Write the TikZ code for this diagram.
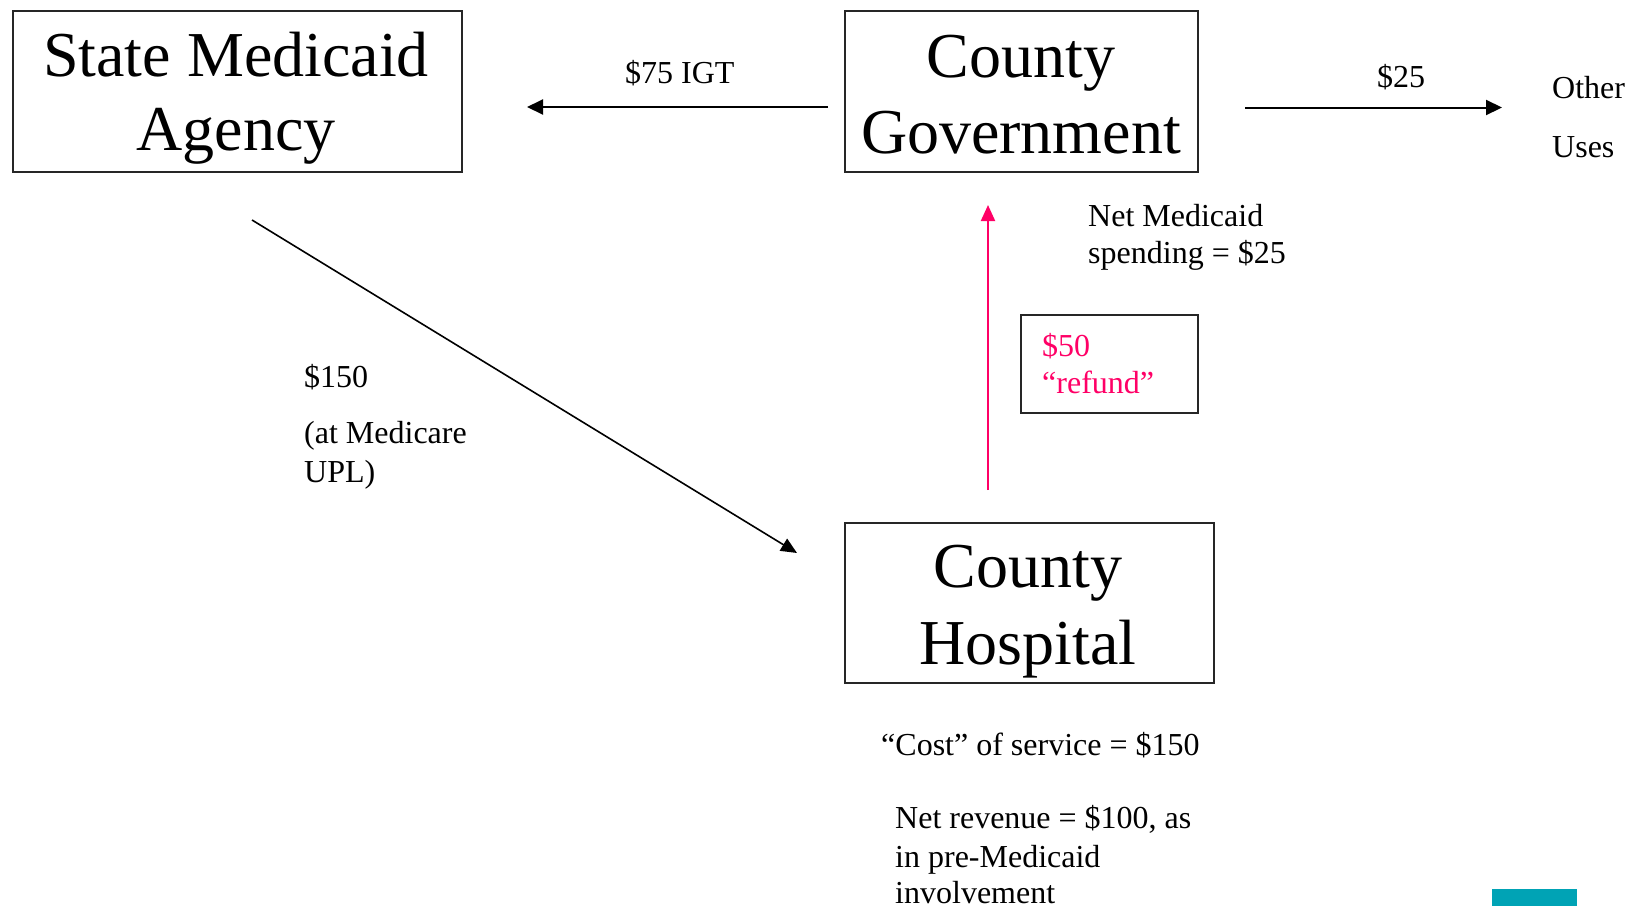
\documentclass[tikz,border=0pt]{standalone}
\usepackage{fontspec}
\setmainfont{Liberation Serif}
\usetikzlibrary{arrows.meta,calc}
\definecolor{hotpink}{RGB}{255,0,102}
\definecolor{tealbar}{RGB}{0,163,181}
\tikzset{
  box/.style={draw=black!85, line width=2pt, inner sep=0pt, anchor=north west},
  bigtxt/.style={inner sep=0pt, anchor=base, font=\fontsize{64}{76}\selectfont},
  smalltxt/.style={inner sep=0pt, anchor=base west, font=\fontsize{32}{39}\selectfont},
  arr/.style={line width=2pt, -{Triangle[length=16pt,width=15pt]}},
  pinkarr/.style={line width=2pt, hotpink, -{Triangle[length=16pt,width=14pt]}},
}
\begin{document}
\begin{tikzpicture}[x=1pt,y=-1pt]
\useasboundingbox (0,0) rectangle (1640,906);
% boxes
\node[box, minimum width=449pt, minimum height=161pt] (sma) at (12,10) {};
\node[box, minimum width=353pt, minimum height=161pt] (gov) at (844,10) {};
\node[box, minimum width=369pt, minimum height=160pt] (hosp) at (844,522) {};
\node[box, minimum width=177pt, minimum height=98pt] (refund) at (1020,314) {};
% box texts
\node[bigtxt] (smaA) at (236,76) {State Medicaid};
\node[bigtxt] (smaB) at (236,150) {Agency};
\node[bigtxt] (govA) at (1021,77) {County};
\node[bigtxt] (govB) at (1021,153) {Government};
\node[bigtxt] (hospA) at (1028,587) {County};
\node[bigtxt] (hospB) at (1028,664) {Hospital};
% coordinates for connectors
\coordinate (igtS) at ($(gov.west)+(-16,15.5)$);
\coordinate (igtE) at ($(sma.east)+(64,15.5)$);
\coordinate (othS) at ($(gov.east)+(46,16)$);
\coordinate (othE) at ($(gov.east)+(303,16)$);
\coordinate (payS) at ($(sma.south west)+(240,47)$);
\coordinate (payE) at ($(hosp.north west)+(-47,31)$);
\coordinate (refS) at ($(hosp.north west)+(144,-32)$);
\coordinate (refE) at ($(gov.south west)+(144,32)$);
% connectors
\draw[arr] (igtS) -- (igtE);
\draw[arr] (othS) -- (othE);
\draw[line width=1.6pt, -{Triangle[length=16pt,width=14pt]}] (payS) -- (payE);
\draw[pinkarr] (refS) -- (refE);
% labels
\node[smalltxt] (igt) at (625,83) {\$75 IGT};
\node[smalltxt] (tw5) at (1377,87) {\$25};
\node[smalltxt] (othA) at (1552,98) {Other};
\node[smalltxt] (othB) at (1552,157) {Uses};
\node[smalltxt] (netA) at (1088,226) {Net Medicaid};
\node[smalltxt] (netB) at (1088,263) {spending = \$25};
\node[smalltxt, text=hotpink] (refA) at (1042,356) {\$50};
\node[smalltxt, text=hotpink] (refB) at (1042,393) {“refund”};
\node[smalltxt] (payA) at (304,387) {\$150};
\node[smalltxt] (payB) at (304,443) {(at Medicare};
\node[smalltxt] (payC) at (304,482) {UPL)};
\node[smalltxt] (cost) at (881,755) {“Cost” of service = \$150};
\node[smalltxt] (revA) at (895,828) {Net revenue = \$100, as};
\node[smalltxt] (revB) at (895,867) {in pre-Medicaid};
\node[smalltxt, text depth=0pt] (revC) at (895,903) {involvement};
% teal bar
\fill[tealbar] (1492,889) rectangle (1577,906);
\end{tikzpicture}
\end{document}
